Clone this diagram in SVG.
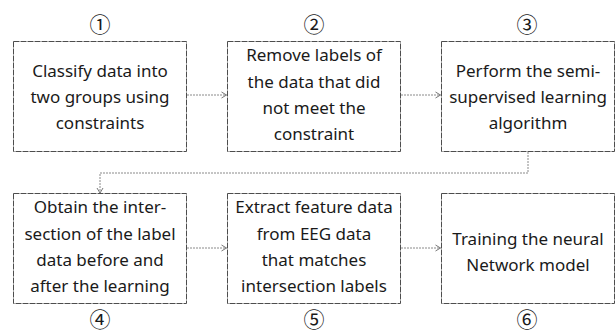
<svg xmlns="http://www.w3.org/2000/svg" width="616" height="333" viewBox="0 0 616 333">
<style>
.box{fill:#fff;stroke:#4d4d4d;stroke-width:1;stroke-dasharray:6 1}
.t{font-family:"Noto Sans","Liberation Sans",sans-serif;font-size:17px;fill:#1a1a1a;text-anchor:middle}
.n{font-family:"Noto Sans CJK KR","Noto Sans",sans-serif;font-size:21px;fill:#1a1a1a;text-anchor:middle}
.c{fill:none;stroke:#8a8a8a;stroke-width:1;stroke-dasharray:2 1}
</style>
<defs>
<marker id="ah" markerWidth="8" markerHeight="8" refX="6" refY="4" orient="auto" markerUnits="userSpaceOnUse">
<path d="M1,1 L6,4 L1,7" fill="none" stroke="#777" stroke-width="1"/>
</marker>
</defs>
<rect width="616" height="333" fill="#fff"/>
<g id="connectors">
<line class="c" x1="187" y1="95" x2="226.5" y2="95" marker-end="url(#ah)"/>
<line class="c" x1="401" y1="95" x2="440.5" y2="95" marker-end="url(#ah)"/>
<polyline class="c" points="528,152 528,173 100,173 100,193" marker-end="url(#ah)"/>
<line class="c" x1="187" y1="248" x2="226.5" y2="248" marker-end="url(#ah)"/>
<line class="c" x1="401" y1="248" x2="440.5" y2="248" marker-end="url(#ah)"/>
</g>
<g id="node1">
<text class="n" x="100" y="32">①</text>
<rect class="box" x="13.5" y="41.5" width="173" height="110"/>
<text class="t" x="100" y="77">Classify data into</text>
<text class="t" x="100" y="103">two groups using</text>
<text class="t" x="100" y="129">constraints</text>
</g>
<g id="node2">
<text class="n" x="314" y="32">②</text>
<rect class="box" x="227.5" y="41.5" width="173" height="110"/>
<text class="t" x="314" y="61">Remove labels of</text>
<text class="t" x="314" y="88">the data that did</text>
<text class="t" x="314" y="114">not meet the</text>
<text class="t" x="314" y="140">constraint</text>
</g>
<g id="node3">
<text class="n" x="527" y="32">③</text>
<rect class="box" x="441.5" y="41.5" width="173" height="110"/>
<text class="t" x="528" y="77">Perform the semi-</text>
<text class="t" x="528" y="103">supervised learning</text>
<text class="t" x="528" y="129">algorithm</text>
</g>
<g id="node4">
<rect class="box" x="13.5" y="193.5" width="173" height="110"/>
<text class="t" x="100" y="213">Obtain the inter-</text>
<text class="t" x="100" y="240">section of the label</text>
<text class="t" x="100" y="266">data before and</text>
<text class="t" x="100" y="292">after the learning</text>
<text class="n" x="100" y="327">④</text>
</g>
<g id="node5">
<rect class="box" x="227.5" y="193.5" width="173" height="110"/>
<text class="t" x="314" y="213">Extract feature data</text>
<text class="t" x="314" y="240">from EEG data</text>
<text class="t" x="314" y="266">that matches</text>
<text class="t" x="314" y="292">intersection labels</text>
<text class="n" x="314" y="327">⑤</text>
</g>
<g id="node6">
<rect class="box" x="441.5" y="193.5" width="173" height="110"/>
<text class="t" x="528" y="245">Training the neural</text>
<text class="t" x="528" y="271">Network model</text>
<text class="n" x="527" y="327">⑥</text>
</g>
</svg>
